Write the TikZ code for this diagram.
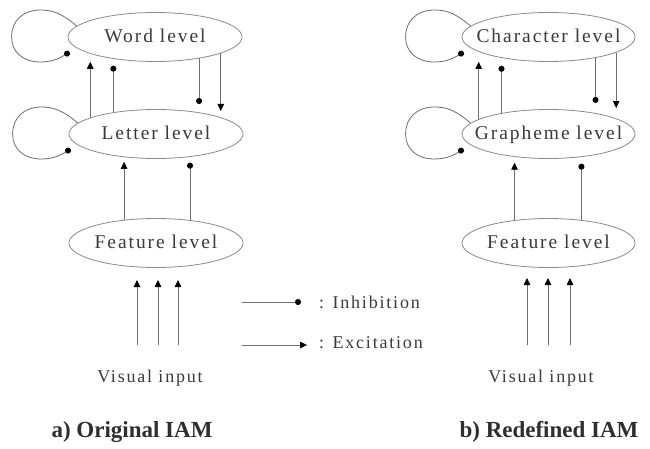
\documentclass[tikz,border=0pt]{standalone}
\usepackage{fontspec}
\setmainfont{Liberation Serif}
\newfontfamily\lblfont{Liberation Serif}[LetterSpace=10]
\usetikzlibrary{arrows.meta,shapes.geometric}

\definecolor{linegray}{HTML}{6E6E6E}
\definecolor{rimgray}{HTML}{8A8A8A}
\definecolor{inkgray}{HTML}{3A3A3A}

\tikzset{
  lvl/.style={ellipse, draw=rimgray, line width=0.8pt, fill=white,
    minimum width=174pt, minimum height=49pt, inner sep=0pt},
  lvltext/.style={font=\lblfont\fontsize{19.5}{22}\selectfont, text=inkgray,
    text height=0.66em, text depth=0pt, inner sep=0pt, yshift=-2pt},
  plaintext/.style={font=\lblfont\fontsize{18}{21}\selectfont, text=inkgray,
    text height=0.66em, text depth=0pt, inner sep=0pt},
  captext/.style={font=\bfseries\fontsize{23}{26}\selectfont, text=inkgray!80!black,
    text height=0.66em, text depth=0pt, inner sep=0pt},
  exc/.style={draw=linegray, line width=0.8pt,
    -{Triangle[length=7pt,width=6.5pt,color=black]}},
  inh/.style={draw=linegray, line width=0.8pt,
    -{Circle[length=6pt,color=black]}},
}

% recurrent inhibition loop on the left of a level node
\newcommand{\selfloop}[1]{%
  \draw[inh, shift={(#1.west)}] (#1.172)
    .. controls (-6,24) and (-16,27) .. (-27,27)
    .. controls (-45,27) and (-56,16) .. (-56,0)
    .. controls (-56,-15) and (-45,-25) .. (-27,-25)
    .. controls (-14,-25) and (-6,-20) .. (2,-15);}

\begin{document}
\begin{tikzpicture}[x=1pt,y=1pt]
\fill[white] (0,0) rectangle (650,448);
\useasboundingbox (0,0) rectangle (650,448);

% ---------- a) original model ----------
\node[lvl, label={[lvltext]center:Word level}]    (W)  at (155,411) {};
\node[lvl, label={[lvltext]center:Letter level}]  (L)  at (156,314) {};
\node[lvl, label={[lvltext]center:Feature level}] (F)  at (156,205) {};

\selfloop{W}
\selfloop{L}

\draw[exc] (L.166) -- ++(0,55.8);
\draw[inh] (L.153) -- ++(0,46.6);
\draw[inh] (W.-26) -- ++(0,-45.5);
\draw[exc] (W.-14) -- ++(0,-57.6);
\draw[exc] (F.144) -- ++(0,58);
\draw[inh] (F.34)  -- ++(0,57.4);

\node[plaintext] (visA) at (150,68.5) {Visual input};
\coordinate (va1) at (137,103);
\coordinate (va2) at (158,103);
\coordinate (va3) at (178,103);
\foreach \c in {va1,va2,va3} \draw[exc] (\c) -- ++(0,65);

\node[captext] (capA) at (132,14) {a) Original IAM};

% ---------- b) redefined model ----------
\node[lvl, minimum width=173pt, label={[lvltext]center:Character level}] (C)  at (548.5,411) {};
\node[lvl, minimum width=173pt, label={[lvltext]center:Grapheme level}]  (G)  at (548.5,314) {};
\node[lvl, minimum width=173pt, label={[lvltext]center:Feature level}]   (F2) at (548.5,205) {};

\selfloop{C}
\selfloop{G}

\draw[exc] (G.168) -- ++(0,57.3);
\draw[inh] (G.156) -- ++(0,47.3);
\draw[inh] (C.-24) -- ++(0,-45);
\draw[exc] (C.-13) -- ++(0,-55.4);
\draw[exc] (F2.146) -- ++(0,57.4);
\draw[inh] (F2.35)  -- ++(0,56.3);

\node[plaintext] (visB) at (541,68.5) {Visual input};
\coordinate (vb1) at (527,103);
\coordinate (vb2) at (548,103);
\coordinate (vb3) at (570,103);
\foreach \c in {vb1,vb2,vb3} \draw[exc] (\c) -- ++(0,67);

\node[captext] (capB) at (549,14) {b) Redefined IAM};

% ---------- legend ----------
\coordinate (linh) at (242,146);
\draw[inh] (linh) -- ++(59,0);
\node[plaintext, anchor=west] (tinh) at (319,143) {: Inhibition};
\coordinate (lexc) at (242,103);
\draw[exc] (lexc) -- ++(65,0);
\node[plaintext, anchor=west] (texc) at (319,102.5) {: Excitation};
\end{tikzpicture}
\end{document}
